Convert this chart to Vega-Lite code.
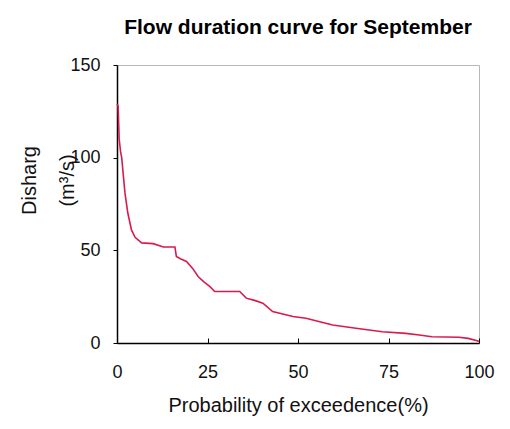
{
  "$schema": "https://vega.github.io/schema/vega-lite/v6.json",
  "width": 362,
  "height": 278,
  "autosize": {"type": "none"},
  "padding": {"left": 117, "top": 65, "right": 31, "bottom": 86},
  "background": "white",
  "title": {
    "text": "Flow duration curve for September",
    "font": "Liberation Sans",
    "fontSize": 21,
    "fontWeight": "bold",
    "color": "#000000",
    "anchor": "middle",
    "offset": 18
  },
  "data": {
    "values": [
      {"p": 0, "q": 129},
      {"p": 0.3, "q": 128},
      {"p": 0.6, "q": 110},
      {"p": 1.0, "q": 103},
      {"p": 1.3, "q": 100},
      {"p": 2.2, "q": 81},
      {"p": 3.0, "q": 70},
      {"p": 4.0, "q": 61},
      {"p": 5.0, "q": 57},
      {"p": 6.8, "q": 54},
      {"p": 10.0, "q": 53.6},
      {"p": 12.8, "q": 51.8},
      {"p": 16.0, "q": 51.8},
      {"p": 16.4, "q": 46.7},
      {"p": 17.5, "q": 45.5},
      {"p": 19.2, "q": 44},
      {"p": 21.0, "q": 40},
      {"p": 22.4, "q": 35.9},
      {"p": 24.0, "q": 33},
      {"p": 25.6, "q": 30.5},
      {"p": 27.0, "q": 27.8},
      {"p": 33.9, "q": 27.8},
      {"p": 35.7, "q": 24.2},
      {"p": 38.0, "q": 23},
      {"p": 40.3, "q": 21.5},
      {"p": 43.0, "q": 17},
      {"p": 48.6, "q": 14.3},
      {"p": 52.2, "q": 13.4},
      {"p": 56.0, "q": 11.5},
      {"p": 59.6, "q": 9.7},
      {"p": 66.0, "q": 8},
      {"p": 73.3, "q": 6.1},
      {"p": 79.8, "q": 5.2},
      {"p": 83.5, "q": 4.3},
      {"p": 87.0, "q": 3.4},
      {"p": 94.5, "q": 3.1},
      {"p": 97.0, "q": 2.5},
      {"p": 99.5, "q": 1.2},
      {"p": 100, "q": 0.8}
    ]
  },
  "mark": {"type": "line", "color": "#d81b4a", "strokeWidth": 1.6, "interpolate": "linear"},
  "encoding": {
    "x": {
      "field": "p",
      "type": "quantitative",
      "scale": {"domain": [0, 100], "nice": false},
      "axis": {
        "title": "Probability of exceedence(%)",
        "values": [0, 25, 50, 75, 100],
        "grid": false,
        "domainColor": "#000000",
        "domainWidth": 1.5,
        "tickColor": "#000000",
        "tickSize": -5,
        "labelPadding": 25,
        "labelFont": "Liberation Sans",
        "labelFontSize": 18,
        "labelColor": "#111111",
        "labelFlush": false,
        "titleFont": "Liberation Sans",
        "titleFontSize": 20,
        "titleFontWeight": "normal",
        "titleColor": "#111111",
        "titlePadding": 14
      }
    },
    "y": {
      "field": "q",
      "type": "quantitative",
      "scale": {"domain": [0, 150], "nice": false},
      "axis": {
        "title": ["Disharg", "(m³/s)"],
        "values": [0, 50, 100, 150],
        "grid": false,
        "domainColor": "#000000",
        "domainWidth": 1.5,
        "tickColor": "#000000",
        "tickSize": 4,
        "labelPadding": 13,
        "labelFont": "Liberation Sans",
        "labelFontSize": 18,
        "labelColor": "#111111",
        "labelFlush": false,
        "titleFont": "Liberation Sans",
        "titleFontSize": 20,
        "titleFontWeight": "normal",
        "titleColor": "#111111",
        "titleAngle": -90,
        "titleAlign": "center",
        "titleBaseline": "alphabetic",
        "titleLineHeight": 38,
        "titleX": -82,
        "titleY": 115
      }
    }
  },
  "config": {
    "view": {"stroke": "#b8b8b8", "strokeWidth": 1}
  }
}
